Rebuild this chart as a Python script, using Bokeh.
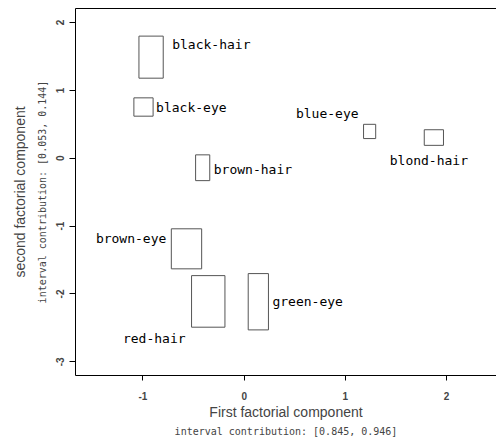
from bokeh.plotting import figure
from bokeh.models import Range1d, LinearAxis, FixedTicker
from bokeh.embed import file_html
from bokeh.resources import INLINE
from bokeh.core.properties import value

# ---- data ----
categories = ["black-hair", "black-eye", "brown-hair", "blue-eye",
              "blond-hair", "brown-eye", "red-hair", "green-eye"]
x_min = [-1.04, -1.09, -0.48, 1.18, 1.78, -0.72, -0.52, 0.04]
x_max = [-0.80, -0.90, -0.34, 1.30, 1.97, -0.42, -0.19, 0.24]
y_min = [1.18, 0.62, -0.33, 0.29, 0.19, -1.63, -2.49, -2.53]
y_max = [1.80, 0.89, 0.05, 0.50, 0.42, -1.04, -1.73, -1.70]

x_ticks = [-1, 0, 1, 2]
y_ticks = [-3, -2, -1, 0, 1, 2]
x_title = "First factorial component"
x_sub = "interval contribution: [0.845, 0.946]"
y_title = "second factorial component"
y_sub = "interval contribution: [0.053, 0.144]"

# ---- layout: where each label sits relative to its rectangle ----
# (anchor x side, anchor y side, text align, x offset px, y offset px)
placement = {
    "black-hair": ("right", "top", "left", 9, 8),
    "black-eye": ("right", "mid", "left", 3, 0),
    "brown-hair": ("right", "mid", "left", 4, 2),
    "blue-eye": ("left", "top", "right", -5, -11),
    "blond-hair": ("mid", "bottom", "center", -5, 15),
    "brown-eye": ("left", "top", "right", -5, 10),
    "red-hair": ("left", "bottom", "right", -6, 11),
    "green-eye": ("right", "mid", "left", 4, 0),
}

p = figure(width=496, height=439,
           x_range=Range1d(-1.667, 2.494), y_range=Range1d(-3.202, 2.207),
           output_backend="svg", toolbar_location=None,
           min_border_left=75, min_border_bottom=61,
           min_border_right=0, min_border_top=8)

p.grid.visible = False
p.outline_line_color = None
p.background_fill_color = "white"
p.border_fill_color = "white"

p.quad(left=x_min, right=x_max, bottom=y_min, top=y_max,
       fill_color=None, line_color="#555555", line_width=1)

label_font = value("DejaVu Sans Mono")
for i, name in enumerate(categories):
    ax, ay, align, dx, dy = placement[name]
    if ax == "left":
        xa = x_min[i]
    elif ax == "right":
        xa = x_max[i]
    else:
        xa = (x_min[i] + x_max[i]) / 2
    if ay == "top":
        ya = y_max[i]
    elif ay == "bottom":
        ya = y_min[i]
    else:
        ya = (y_min[i] + y_max[i]) / 2
    p.text(x=[xa], y=[ya], text=[name], x_offset=dx, y_offset=dy,
           text_align=align, text_baseline="middle",
           text_font=label_font, text_font_size="13px", text_color="black")

tick_font = "Liberation Sans"

# bottom axis: ticks + title
xa_main = p.xaxis[0]
xa_main.ticker = FixedTicker(ticks=x_ticks)
xa_main.major_label_overrides = {t: str(t) for t in x_ticks}
xa_main.axis_line_color = "black"
xa_main.major_tick_in = 0
xa_main.major_tick_out = 5
xa_main.minor_tick_line_color = None
xa_main.major_label_text_font = tick_font
xa_main.major_label_text_font_style = "bold"
xa_main.major_label_text_font_size = "10px"
xa_main.major_label_standoff = 11
xa_main.axis_label = x_title
xa_main.axis_label_text_font = tick_font
xa_main.axis_label_text_font_style = "normal"
xa_main.axis_label_text_font_size = "14px"
xa_main.axis_label_standoff = 1

xa_sub = LinearAxis(ticker=FixedTicker(ticks=[]), axis_label=x_sub,
                    axis_line_color=None, major_tick_out=0, major_tick_in=0,
                    minor_tick_line_color=None, major_label_standoff=0,
                    axis_label_standoff=3,
                    axis_label_text_font="DejaVu Sans Mono",
                    axis_label_text_font_style="normal",
                    axis_label_text_font_size="10px")
p.add_layout(xa_sub, "below")

# top border line (no right border visible in the reference)
top_line = LinearAxis(ticker=FixedTicker(ticks=[]), axis_line_color="black",
                      major_tick_out=0, major_tick_in=0,
                      minor_tick_line_color=None, major_label_standoff=0)
p.add_layout(top_line, "above")

# left axis: ticks + sub label (inner), title (outer)
ya_main = p.yaxis[0]
ya_main.ticker = FixedTicker(ticks=y_ticks)
ya_main.major_label_overrides = {t: str(t) for t in y_ticks}
ya_main.axis_line_color = "black"
ya_main.major_tick_in = 0
ya_main.major_tick_out = 6
ya_main.minor_tick_line_color = None
ya_main.major_label_text_font = tick_font
ya_main.major_label_text_font_style = "bold"
ya_main.major_label_text_font_size = "10px"
ya_main.major_label_orientation = "vertical"
ya_main.major_label_standoff = 5
ya_main.axis_label = y_sub
ya_main.axis_label_text_font = "DejaVu Sans Mono"
ya_main.axis_label_text_font_style = "normal"
ya_main.axis_label_text_font_size = "10px"
ya_main.axis_label_standoff = 6

ya_title = LinearAxis(ticker=FixedTicker(ticks=[]), axis_label=y_title,
                      axis_line_color=None, major_tick_out=0, major_tick_in=0,
                      minor_tick_line_color=None, major_label_standoff=0,
                      axis_label_standoff=6,
                      axis_label_text_font=tick_font,
                      axis_label_text_font_style="normal",
                      axis_label_text_font_size="14px")
p.add_layout(ya_title, "left")

open("out.html", "w").write(file_html(p, INLINE))
